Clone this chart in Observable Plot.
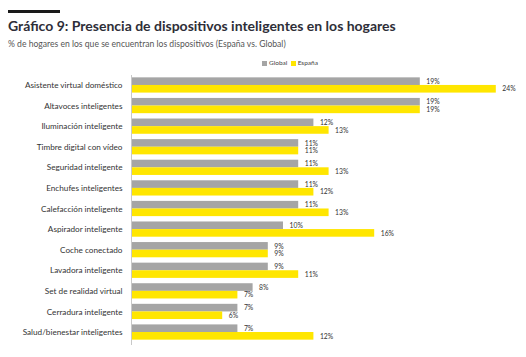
<!DOCTYPE html>
<html><head><meta charset="utf-8">
<script src="https://cdn.jsdelivr.net/npm/d3@7"></script>
<script src="https://cdn.jsdelivr.net/npm/@observablehq/plot@0.6"></script>
<style>
body{margin:0;background:#fff;width:526px;height:357px;position:relative;overflow:hidden;font-family:Lato,"Open Sans",sans-serif;}
#bar{position:absolute;left:8px;top:10px;width:52px;height:3px;background:#1a1a1a;}
#title{position:absolute;left:8px;top:17px;font-size:14px;font-weight:bold;color:#2e2e38;white-space:nowrap;}
#sub{position:absolute;left:8px;top:39px;font-size:8.6px;color:#555;white-space:nowrap;}
#legend{position:absolute;left:262px;top:59px;font-size:6.5px;color:#444;white-space:nowrap;}
#legend span.sw{display:inline-block;width:5px;height:5px;margin-right:2px;vertical-align:-0.5px;}
#chart{position:absolute;left:0;top:70px;}
#chart svg{display:block;}
</style></head>
<body>
<div id="bar"></div>
<div id="title">Gráfico 9: Presencia de dispositivos inteligentes en los hogares</div>
<div id="sub">% de hogares en los que se encuentran los dispositivos (España vs. Global)</div>
<div id="legend"></div>
<div id="chart"></div>
<script>
const categories = ["Asistente virtual doméstico","Altavoces inteligentes","Iluminación inteligente","Timbre digital con vídeo","Seguridad inteligente","Enchufes inteligentes","Calefacción inteligente","Aspirador inteligente","Coche conectado","Lavadora inteligente","Set de realidad virtual","Cerradura inteligente","Salud/bienestar inteligentes"];
const globalValues = [19,19,12,11,11,11,11,10,9,9,8,7,7];
const espanaValues = [24,19,13,11,13,12,13,16,9,11,7,6,12];
const seriesNames = ["Global","España"];
const seriesColors = ["#a5a5a5","#ffe600"];

const dataG = categories.map((c,i)=>({cat:c, v:globalValues[i]}));
const dataE = categories.map((c,i)=>({cat:c, v:espanaValues[i]}));

document.getElementById("legend").innerHTML = seriesNames.map((s,i)=>`<span class="sw" style="background:${seriesColors[i]}"></span>${s}`).join("&nbsp;&nbsp;");

const half = 7.6;
const plot = Plot.plot({
  width: 526, height: 287,
  marginLeft: 131, marginRight: 15, marginTop: 2, marginBottom: 12,
  style: {fontFamily: "Lato, 'Open Sans', sans-serif", background: "#fff"},
  x: {domain: [0, 25], axis: null},
  y: {domain: categories, padding: 0.26, round: false, label: null, tickSize: 0, tickPadding: 9},
  marks: [
    Plot.barX(dataG, {y: "cat", x: "v", fill: seriesColors[0], insetBottom: half}),
    Plot.barX(dataE, {y: "cat", x: "v", fill: seriesColors[1], insetTop: half}),
    Plot.text(dataG, {y: "cat", x: "v", text: d => d.v + "%", dx: 6, dy: -half/2, textAnchor: "start", fontSize: 6.8, fill: "#333"}),
    Plot.text(dataE, {y: "cat", x: "v", text: d => d.v + "%", dx: 6, dy: half/2, textAnchor: "start", fontSize: 6.8, fill: "#333"}),
    Plot.ruleX([0], {stroke: "#c8c8c8", insetTop: 3}),
    Plot.axisY({tickSize: 0, tickPadding: 9, fontSize: 8.2, fill: "#333", label: null})
  ]
});
document.getElementById("chart").appendChild(plot);
</script>
</body></html>
